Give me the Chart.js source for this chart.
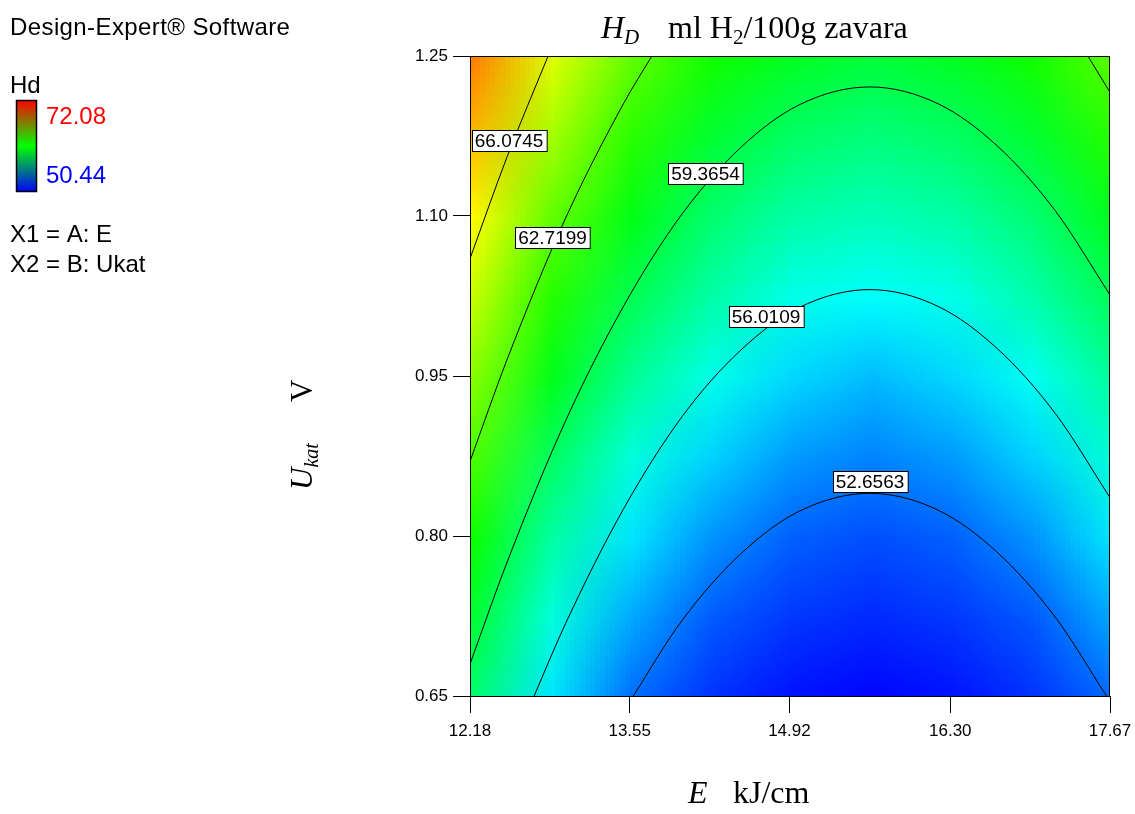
<!DOCTYPE html>
<html>
<head>
<meta charset="utf-8">
<title>Hd contour</title>
<script src="https://cdn.jsdelivr.net/npm/chart.js@4/dist/chart.umd.min.js"></script>
<style>
    html, body { margin: 0; padding: 0; background: #fff; }
    #chartCanvas { display: block; }
</style>
</head>
<body>
<canvas id="chartCanvas" width="1135" height="814"></canvas>
<script>
// axis ticks
const eTicks = [12.18, 13.55, 14.92, 16.30, 17.67];
const uTicks = [0.65, 0.80, 0.95, 1.10, 1.25];

// grid nodes of the response surface
const eNodes = [12.18, 12.87, 13.55, 14.24, 14.92, 15.61, 16.30, 16.98, 17.67];
const uNodes = [0.65, 0.725, 0.80, 0.875, 0.95, 1.025, 1.10, 1.175, 1.25];
const hdRows = [
    [58.9, 55.3, 52.75, 51.5, 50.8, 50.5, 50.8, 51.5, 52.66],     // U = 0.65
    [60.2, 56.6, 54.0, 52.35, 51.6, 51.3, 51.6, 52.3, 54.0],      // U = 0.725
    [61.5, 57.8, 55.3, 53.55, 52.47, 52.1, 52.47, 53.55, 55.35],  // U = 0.80
    [62.8, 59.2, 56.6, 54.9, 53.7, 53.2, 53.7, 54.9, 56.7],       // U = 0.875
    [64.1, 60.7, 58.1, 56.3, 55.0, 54.4, 55.0, 56.1, 58.0],       // U = 0.95
    [65.45, 62.0, 59.5, 57.7, 56.3, 55.9, 56.3, 57.6, 59.37],     // U = 1.025
    [66.75, 63.3, 60.8, 58.9, 57.7, 57.3, 57.7, 58.8, 60.7],      // U = 1.10
    [68.1, 64.7, 62.1, 60.2, 59.1, 58.6, 59.1, 60.2, 62.0],       // U = 1.175
    [69.4, 66.0, 63.3, 61.6, 60.5, 60.0, 60.5, 61.6, 63.2]        // U = 1.25
];
const hdMin = 50.44;
const hdMax = 72.08;

// contour lines [E, U]
const contour52 = [[13.58, 0.65], [14.0, 0.721], [14.5, 0.783], [15.0, 0.823], [15.61, 0.840], [16.2, 0.824], [16.7, 0.785], [17.2, 0.724], [17.64, 0.65]];
const contour56 = [[12.73, 0.65], [13.0, 0.718], [13.5, 0.826], [14.0, 0.912], [14.5, 0.974], [15.0, 1.014], [15.61, 1.031], [16.2, 1.015], [16.7, 0.976], [17.2, 0.915], [17.67, 0.836]];
const contour59 = [[12.18, 0.680], [12.5, 0.776], [13.0, 0.908], [13.5, 1.016], [14.0, 1.102], [14.5, 1.164], [15.0, 1.204], [15.61, 1.221], [16.2, 1.205], [16.7, 1.166], [17.2, 1.105], [17.67, 1.026]];
const contour62 = [[12.18, 0.870], [12.5, 0.966], [13.0, 1.098], [13.5, 1.206], [13.74, 1.25]];
const contour62right = [[17.48, 1.25], [17.67, 1.216]];
const contour66 = [[12.18, 1.060], [12.5, 1.156], [12.85, 1.25]];

// contour labels: text, E, U
const contourLabels = [
    ["66.0745", 12.515, 1.171],
    ["62.7199", 12.888, 1.080],
    ["59.3654", 14.200, 1.140],
    ["56.0109", 14.719, 1.006],
    ["52.6563", 15.611, 0.851]
];

const sans = "'Liberation Sans', Arial, sans-serif";
const serif = "'Liberation Serif', 'Times New Roman', serif";

// blue -> cyan -> green -> yellow -> red
function hdColor(v) {
    const stops = [[0, 0, 255], [0, 255, 255], [0, 255, 0], [255, 255, 0], [255, 0, 0]];
    let t = (v - hdMin) / (hdMax - hdMin);
    t = Math.max(0, Math.min(1, t)) * 4;
    const i = Math.min(3, Math.floor(t));
    const f = t - i;
    const a = stops[i], b = stops[i + 1];
    return [0, 1, 2].map(k => Math.round(a[k] + (b[k] - a[k]) * f));
}

const heatPlugin = {
    id: "heat",
    beforeDatasetsDraw(chart) {
        const { ctx, chartArea, scales: { x, y } } = chart;
        const cols = eNodes.length, rows = uNodes.length;
        const off = document.createElement("canvas");
        off.width = cols;
        off.height = rows;
        const octx = off.getContext("2d");
        const img = octx.createImageData(cols, rows);
        for (let r = 0; r < rows; r++) {
            const row = hdRows[rows - 1 - r];
            for (let c = 0; c < cols; c++) {
                const col = hdColor(row[c]);
                const i = (r * cols + c) * 4;
                img.data[i] = col[0];
                img.data[i + 1] = col[1];
                img.data[i + 2] = col[2];
                img.data[i + 3] = 255;
            }
        }
        octx.putImageData(img, 0, 0);

        const x0 = x.getPixelForValue(eNodes[0]);
        const x1 = x.getPixelForValue(eNodes[cols - 1]);
        const yTop = y.getPixelForValue(uNodes[rows - 1]);
        const yBot = y.getPixelForValue(uNodes[0]);
        const dx = (x1 - x0) / (cols - 1);
        const dy = (yBot - yTop) / (rows - 1);

        ctx.save();
        ctx.beginPath();
        ctx.rect(chartArea.left, chartArea.top, chartArea.width, chartArea.height);
        ctx.clip();
        ctx.imageSmoothingEnabled = true;
        ctx.imageSmoothingQuality = "low";
        ctx.drawImage(off, x0 - dx / 2, yTop - dy / 2, dx * cols, dy * rows);
        ctx.restore();
    },
    afterDatasetsDraw(chart) {
        const { ctx, chartArea, scales: { x, y } } = chart;
        ctx.save();
        // frame
        ctx.strokeStyle = "#000";
        ctx.lineWidth = 1;
        ctx.strokeRect(chartArea.left + 0.5, chartArea.top + 0.5, chartArea.width - 1, chartArea.height);
        // contour labels
        ctx.font = "19px " + sans;
        ctx.textAlign = "center";
        ctx.textBaseline = "middle";
        contourLabels.forEach(([txt, e, u]) => {
            const px = x.getPixelForValue(e);
            const py = y.getPixelForValue(u);
            const w = ctx.measureText(txt).width + 6;
            const h = 21;
            const l = Math.round(px - w / 2) + 0.5, t = Math.round(py - h / 2) + 0.5;
            ctx.fillStyle = "#fff";
            ctx.fillRect(l, t, w, h);
            ctx.strokeRect(l, t, w, h);
            ctx.fillStyle = "#000";
            ctx.fillText(txt, px, py + 1);
        });
        ctx.restore();
    }
};

function drawRuns(ctx, runs, x, y) {
    let cx = x;
    runs.forEach(r => {
        ctx.font = r.font;
        ctx.fillText(r.text, cx, y + (r.dy || 0));
        cx += ctx.measureText(r.text).width;
    });
}

const textPlugin = {
    id: "texts",
    afterDraw(chart) {
        const ctx = chart.ctx;
        ctx.save();
        ctx.textAlign = "left";
        ctx.textBaseline = "alphabetic";
        ctx.fillStyle = "#000";

        // legend block
        ctx.font = "24px " + sans;
        ctx.letterSpacing = "0.4px";
        ctx.fillText("Design-Expert\u00AE Software", 10, 35);
        ctx.letterSpacing = "0px";
        ctx.fillText("Hd", 10, 93);
        const grad = ctx.createLinearGradient(0, 100, 0, 192);
        grad.addColorStop(0, "rgb(255,0,0)");
        grad.addColorStop(0.5, "rgb(0,255,0)");
        grad.addColorStop(1, "rgb(0,0,255)");
        ctx.fillStyle = grad;
        ctx.fillRect(16, 100, 21, 92);
        ctx.strokeStyle = "#000";
        ctx.lineWidth = 1.5;
        ctx.strokeRect(16.5, 100.5, 20, 91);
        ctx.fillStyle = "#ff0000";
        ctx.fillText(hdMax.toFixed(2), 46, 124);
        ctx.fillStyle = "#0000ff";
        ctx.fillText(hdMin.toFixed(2), 46, 183);
        ctx.fillStyle = "#000";
        ctx.fillText("X1 = A: E", 10, 242);
        ctx.fillText("X2 = B: Ukat", 10, 272);

        // title
        drawRuns(ctx, [
            { text: "H", font: "italic 32px " + serif },
            { text: "D", font: "italic 21px " + serif, dy: 6 }
        ], 601, 38);
        drawRuns(ctx, [
            { text: "ml H", font: "32px " + serif },
            { text: "2", font: "21px " + serif, dy: 6 },
            { text: "/100g zavara", font: "32px " + serif }
        ], 668, 38);

        // x axis title
        drawRuns(ctx, [{ text: "E", font: "italic 32px " + serif }], 688, 803);
        drawRuns(ctx, [{ text: "kJ/cm", font: "32px " + serif }], 733, 803);

        // y axis title
        ctx.translate(312, 490);
        ctx.rotate(-Math.PI / 2);
        drawRuns(ctx, [
            { text: "U", font: "italic 31px " + serif },
            { text: "kat", font: "italic 20px " + serif, dy: 6 }
        ], 0, 0);
        drawRuns(ctx, [{ text: "V", font: "31px " + serif }], 88, 0);
        ctx.restore();
    }
};

const lineStyle = {
    borderColor: "#000",
    borderWidth: 1,
    pointRadius: 0,
    showLine: true,
    cubicInterpolationMode: "monotone",
    fill: false
};

const toPts = arr => arr.map(([e, u]) => ({ x: e, y: u }));

const chart = new Chart(document.getElementById("chartCanvas").getContext("2d"), {
    type: "scatter",
    data: {
        datasets: [
            { label: "52.6563", data: toPts(contour52), ...lineStyle },
            { label: "56.0109", data: toPts(contour56), ...lineStyle },
            { label: "59.3654", data: toPts(contour59), ...lineStyle },
            { label: "62.7199", data: toPts(contour62), ...lineStyle },
            { label: "62.7199 b", data: toPts(contour62right), ...lineStyle },
            { label: "66.0745", data: toPts(contour66), ...lineStyle }
        ]
    },
    options: {
        responsive: false,
        animation: false,
        events: [],
        layout: { padding: { left: 380, right: 25, top: 56, bottom: 48 } },
        plugins: {
            legend: { display: false },
            tooltip: { enabled: false }
        },
        scales: {
            x: {
                type: "linear",
                min: 12.18,
                max: 17.67,
                afterBuildTicks: s => { s.ticks = eTicks.map(v => ({ value: v })); },
                afterFit: s => { s.height = 70; s.paddingLeft = 0; s.paddingRight = 0; },
                ticks: {
                    callback: v => Number(v).toFixed(2),
                    font: { family: sans, size: 17 },
                    color: "#000",
                    padding: 8,
                    maxRotation: 0,
                    autoSkip: false
                },
                grid: { drawOnChartArea: false, drawTicks: true, tickLength: 17, color: "#000" },
                border: { display: true, color: "#000" }
            },
            y: {
                type: "linear",
                min: 0.65,
                max: 1.25,
                afterBuildTicks: s => { s.ticks = uTicks.map(v => ({ value: v })); },
                afterFit: s => { s.width = 90; s.paddingTop = 0; s.paddingBottom = 0; },
                ticks: {
                    callback: v => Number(v).toFixed(2),
                    font: { family: sans, size: 17 },
                    color: "#000",
                    padding: 5,
                    autoSkip: false
                },
                grid: { drawOnChartArea: false, drawTicks: true, tickLength: 17, color: "#000" },
                border: { display: true, color: "#000" }
            }
        }
    },
    plugins: [heatPlugin, textPlugin]
});
</script>
</body>
</html>
